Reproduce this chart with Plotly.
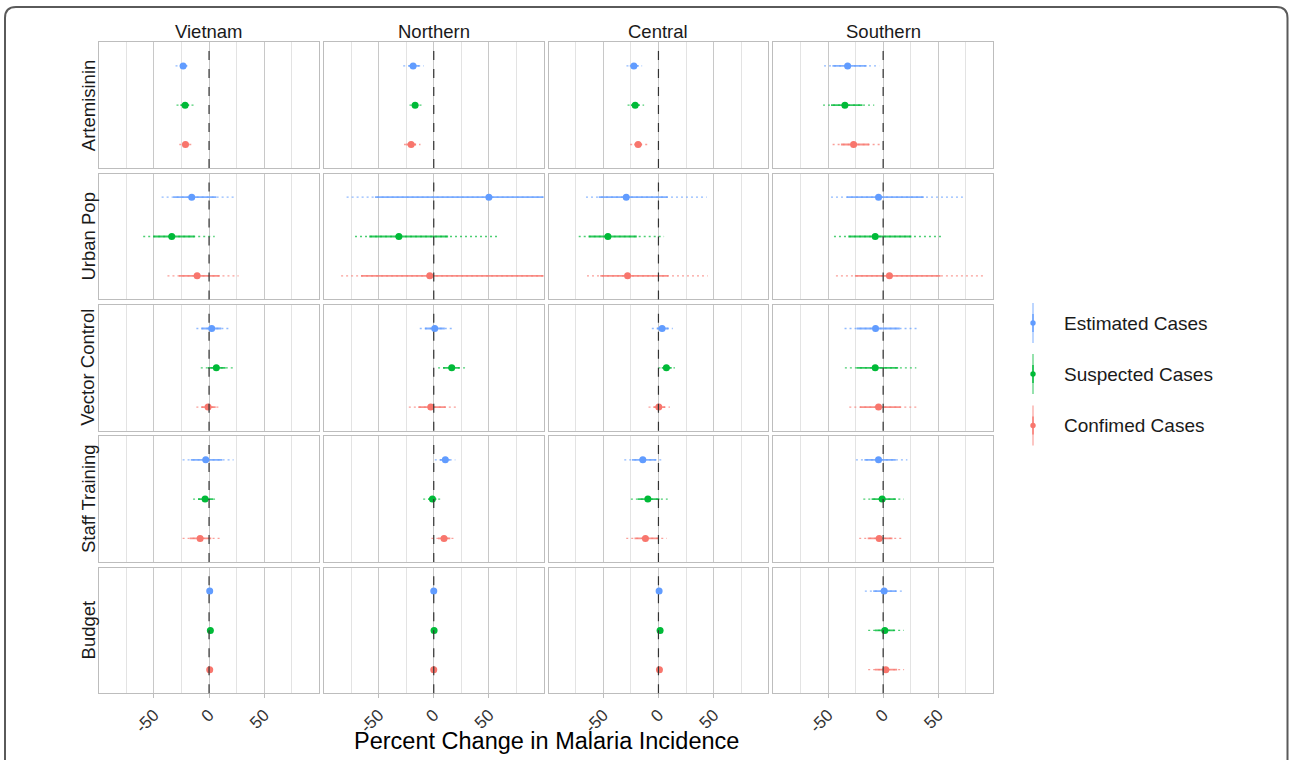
import plotly.graph_objects as go

# ---------------- data ----------------
regions = ["Vietnam", "Northern", "Central", "Southern"]
factors = ["Artemisinin", "Urban Pop", "Vector Control", "Staff Training", "Budget"]
series_names = ["Estimated Cases", "Suspected Cases", "Confimed Cases"]
series_colors = ["#619CFF", "#00BA38", "#F8766D"]
x_tick_vals = [-50, 0, 50]
x_tick_text = ["-50", "0", "50"]
x_minor_vals = [-75, -25, 25, 75]
x_title = "Percent Change in Malaria Incidence"

# rows = factors, columns = regions
est_point = [[-23.5, -18.7, -22.3, -32.2],
             [-15.7, 50.0, -29.2, -4.2],
             [2.4, 0.9, 3.3, -6.9],
             [-3.0, 10.5, -14.2, -4.2],
             [0.6, 0.0, 0.6, 0.9]]
est_lo_in = [[-26.5, -23.0, -26.0, -46.0],
             [-32.5, -53.3, -54.2, -33.0],
             [-7.0, -8.0, -1.5, -24.0],
             [-16.6, 5.4, -24.0, -17.0],
             [-0.5, -1.0, -0.5, -9.0]]
est_hi_in = [[-20.0, -13.0, -18.0, -15.0],
             [6.6, 180.0, 8.4, 36.8],
             [11.0, 10.0, 9.0, 15.0],
             [12.0, 15.0, -2.0, 11.5],
             [1.7, 1.0, 1.7, 12.0]]
est_lo_out = [[-30.4, -27.7, -29.0, -53.6],
              [-43.0, -79.0, -65.7, -47.3],
              [-11.5, -12.7, -6.0, -35.0],
              [-24.0, 0.9, -31.0, -24.7],
              [-1.5, -2.0, -1.5, -16.6]]
est_hi_out = [[-17.0, -9.0, -14.8, -3.6],
              [24.7, 300.0, 43.7, 72.3],
              [17.8, 16.9, 13.0, 33.0],
              [22.3, 19.6, 5.1, 22.0],
              [2.7, 2.0, 2.7, 19.6]]

sus_point = [[-21.7, -16.9, -21.1, -34.7],
             [-33.8, -31.6, -45.8, -7.2],
             [6.6, 16.3, 7.2, -7.2],
             [-3.6, -1.2, -9.6, -0.9],
             [1.2, 0.3, 1.5, 1.5]]
sus_lo_in = [[-26.0, -20.0, -25.0, -47.3],
             [-50.6, -58.5, -63.3, -31.6],
             [-1.0, 8.4, 3.0, -24.0],
             [-10.0, -5.0, -18.7, -10.5],
             [0.2, -0.7, 0.5, -7.5]]
sus_hi_in = [[-18.0, -14.0, -17.0, -18.7],
             [-13.0, 13.0, -19.6, 25.6],
             [15.0, 23.5, 12.0, 13.6],
             [3.6, 2.4, 0.9, 11.5],
             [2.2, 1.3, 2.5, 10.5]]
sus_lo_out = [[-29.5, -22.0, -28.0, -54.5],
              [-59.7, -71.4, -72.3, -44.6],
              [-7.5, 3.9, 0.0, -34.7],
              [-14.5, -9.6, -25.0, -18.0],
              [-0.8, -1.7, -0.5, -13.6]]
sus_hi_out = [[-13.8, -11.0, -13.0, -8.1],
              [5.1, 59.0, 5.1, 54.2],
              [21.7, 29.5, 15.0, 30.1],
              [7.5, 6.0, 8.4, 18.7],
              [3.2, 2.3, 3.5, 18.7]]

con_point = [[-21.4, -20.5, -18.4, -26.8],
             [-10.8, -3.6, -28.0, 5.7],
             [-0.9, -2.7, 0.3, -4.2],
             [-8.1, 9.3, -11.8, -3.6],
             [0.6, 0.0, 0.9, 2.4]]
con_lo_in = [[-24.0, -25.0, -22.0, -38.3],
             [-27.4, -66.0, -52.7, -25.6],
             [-7.0, -14.0, -4.5, -21.0],
             [-17.5, 3.9, -21.7, -14.0],
             [-0.4, -1.0, -0.1, -7.5]]
con_hi_in = [[-18.0, -16.0, -15.0, -12.7],
             [9.6, 200.0, 9.0, 52.1],
             [6.0, 10.9, 6.0, 16.0],
             [2.0, 15.0, 0.0, 8.4],
             [1.6, 1.0, 1.9, 12.7]]
con_lo_out = [[-27.0, -27.0, -25.6, -45.8],
              [-37.7, -84.0, -64.8, -42.8],
              [-11.5, -22.6, -9.0, -30.7],
              [-24.0, -2.1, -29.2, -21.7],
              [-1.4, -2.0, -1.1, -13.6]]
con_hi_out = [[-15.0, -12.0, -10.0, -2.4],
              [26.8, 320.0, 44.6, 91.3],
              [11.0, 21.1, 10.5, 30.1],
              [11.8, 19.9, 7.5, 18.0],
              [2.6, 2.0, 2.9, 19.0]]

# table built from the arrays above
series_data = [
    (est_point, est_lo_in, est_hi_in, est_lo_out, est_hi_out),
    (sus_point, sus_lo_in, sus_hi_in, sus_lo_out, sus_hi_out),
    (con_point, con_lo_in, con_hi_in, con_lo_out, con_hi_out),
]

# ---------------- layout geometry (pixels) ----------------
W, H = 1290, 760
col_left0, col_w, col_step = 99.3, 219.5, 224.7
row_top0, row_h, row_step = 42.3, 125.8, 131.3


def px(x):
    return x / W


def py(y):
    return 1 - y / H


def rgba(hexc, a):
    h = hexc.lstrip("#")
    return "rgba(%d,%d,%d,%.2f)" % (int(h[0:2], 16), int(h[2:4], 16), int(h[4:6], 16), a)


fig = go.Figure()
layout = dict(
    width=W, height=H,
    margin=dict(l=0, r=0, t=0, b=0),
    paper_bgcolor="white", plot_bgcolor="white",
    showlegend=False,
    font=dict(family="Liberation Sans, Arial, sans-serif", color="#1a1a1a"),
)
shapes = []
annotations = []
y_order = list(reversed(series_names))

for r in range(len(factors)):
    for c in range(len(regions)):
        k = r * len(regions) + c + 1
        xa = "x" if k == 1 else "x%d" % k
        ya = "y" if k == 1 else "y%d" % k
        x0 = col_left0 + c * col_step
        y0 = row_top0 + r * row_step
        bottom = r == len(factors) - 1
        layout["xaxis" if k == 1 else "xaxis%d" % k] = dict(
            domain=[px(x0), px(x0 + col_w)],
            anchor=ya,
            range=[-99.5, 99.5],
            tickmode="array", tickvals=x_tick_vals, ticktext=x_tick_text,
            showticklabels=bottom,
            ticks="outside" if bottom else "",
            ticklen=4, tickcolor="#BDBDBD", tickwidth=1,
            tickangle=-45,
            tickfont=dict(size=17, color="#333333"),
            showgrid=True, gridcolor="#C8C8C8", gridwidth=1.3,
            minor=dict(tickmode="array", tickvals=x_minor_vals, showgrid=True,
                       gridcolor="#E3E3E3", gridwidth=1, ticks=""),
            zeroline=False,
            showline=True, mirror=True, linecolor="#BDBDBD", linewidth=1.3,
            fixedrange=True,
        )
        layout["yaxis" if k == 1 else "yaxis%d" % k] = dict(
            domain=[py(y0 + row_h), py(y0)],
            anchor=xa,
            type="category", categoryorder="array", categoryarray=y_order,
            range=[-0.6, 2.6],
            showticklabels=False, ticks="", showgrid=False, zeroline=False,
            showline=True, mirror=True, linecolor="#BDBDBD", linewidth=1.3,
            fixedrange=True,
        )
        for s, name in enumerate(series_names):
            pt, lo_in, hi_in, lo_out, hi_out = series_data[s]
            col = series_colors[s]
            fig.add_trace(go.Scatter(
                x=[lo_out[r][c], hi_out[r][c]], y=[name, name], xaxis=xa, yaxis=ya,
                mode="lines", line=dict(color=rgba(col, 0.7), width=1.3, dash="2px,3px"),
                hoverinfo="skip"))
            fig.add_trace(go.Scatter(
                x=[lo_in[r][c], hi_in[r][c]], y=[name, name], xaxis=xa, yaxis=ya,
                mode="lines", line=dict(color=rgba(col, 0.8), width=1.8),
                hoverinfo="skip"))
            fig.add_trace(go.Scatter(
                x=[pt[r][c]], y=[name], xaxis=xa, yaxis=ya, name=name,
                mode="markers", marker=dict(color=col, size=7),
                cliponaxis=True))
        # dashed zero reference line
        shapes.append(dict(type="line", xref=xa, yref=ya + " domain",
                           x0=0, x1=0, y0=0, y1=1, layer="above",
                           line=dict(color="#333333", width=1.2, dash="dash")))

# strip labels (columns)
for c, reg in enumerate(regions):
    cx = col_left0 + c * col_step + col_w / 2
    annotations.append(dict(text=reg, x=px(cx), y=py(31.5), xref="paper", yref="paper",
                            showarrow=False, xanchor="center", yanchor="middle",
                            font=dict(size=18.5, color="#1a1a1a")))
# strip labels (rows)
for r, fac in enumerate(factors):
    cy = row_top0 + r * row_step + row_h / 2
    annotations.append(dict(text=fac, x=px(88), y=py(cy), xref="paper", yref="paper",
                            showarrow=False, xanchor="center", yanchor="middle",
                            textangle=-90, font=dict(size=18.5, color="#1a1a1a")))
# x-axis title
annotations.append(dict(text=x_title, x=px(col_left0 + (3 * col_step + col_w) / 2), y=py(741),
                        xref="paper", yref="paper", showarrow=False,
                        xanchor="center", yanchor="middle",
                        font=dict(size=23.5, color="#000000")))

# custom legend (vertical error-bar keys)
leg_y = [323, 374, 425.5]
for s, name in enumerate(series_names):
    col = series_colors[s]
    cy = leg_y[s]
    shapes.append(dict(type="line", xref="paper", yref="paper",
                       x0=px(1033), x1=px(1033), y0=py(cy - 20), y1=py(cy + 20),
                       line=dict(color=rgba(col, 0.55), width=1.5)))
    shapes.append(dict(type="line", xref="paper", yref="paper",
                       x0=px(1033), x1=px(1033), y0=py(cy - 9), y1=py(cy + 9),
                       line=dict(color=rgba(col, 0.85), width=1.6)))
    shapes.append(dict(type="circle", xref="paper", yref="paper",
                       x0=px(1030.3), x1=px(1035.7), y0=py(cy - 2.7), y1=py(cy + 2.7),
                       fillcolor=col, line=dict(color=col, width=0)))
    annotations.append(dict(text=name, x=px(1062), y=py(cy), xref="paper", yref="paper",
                            showarrow=False, xanchor="left", yanchor="middle",
                            font=dict(size=19, color="#1a1a1a")))

# outer rounded frame
fx0, fx1, fy0, rad = 5, 1287.5, 7, 11
path = ("M %f,%f L %f,%f Q %f,%f %f,%f L %f,%f Q %f,%f %f,%f L %f,%f" % (
    px(fx0), py(800), px(fx0), py(fy0 + rad), px(fx0), py(fy0), px(fx0 + rad), py(fy0),
    px(fx1 - rad), py(fy0), px(fx1), py(fy0), px(fx1), py(fy0 + rad), px(fx1), py(800)))
shapes.append(dict(type="path", xref="paper", yref="paper", path=path,
                   line=dict(color="#5a5a5a", width=2)))

layout["shapes"] = shapes
layout["annotations"] = annotations
fig.update_layout(**layout)
fig.write_html("out.html", config={"displayModeBar": False},
               post_script="document.body.style.margin='0';document.body.style.overflow='hidden';")
